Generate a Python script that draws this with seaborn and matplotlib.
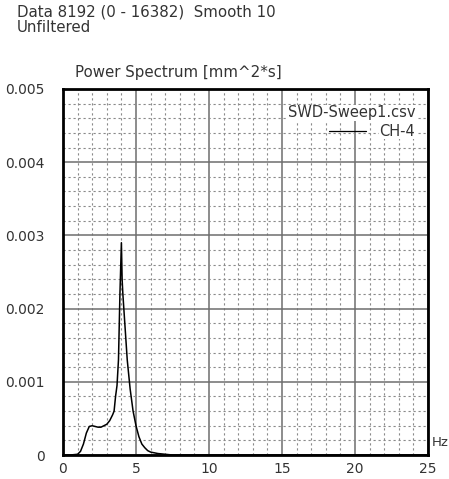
import matplotlib
matplotlib.use("Agg")
import matplotlib.pyplot as plt
from matplotlib.ticker import MultipleLocator
import seaborn as sns
import pandas as pd

# Spectrum samples (frequency in Hz, power in mm^2*s)
freq_hz = [0.0, 0.5, 1.0, 1.2, 1.4, 1.6, 1.8, 2.0, 2.2, 2.4, 2.6, 2.8, 3.0,
           3.2, 3.4, 3.5, 3.6, 3.7, 3.8, 3.9, 4.0, 4.05, 4.1, 4.2, 4.3, 4.4,
           4.5, 4.6, 4.8, 5.0, 5.2, 5.4, 5.6, 5.8, 6.0, 6.5, 7.0, 7.5, 10.0,
           15.0, 20.0, 25.0]
power = [0.0, 0.0, 0.00001, 0.00005, 0.00015, 0.0003, 0.00039, 0.0004,
         0.00039, 0.00038, 0.00038, 0.0004, 0.00042, 0.00047, 0.00055,
         0.0006, 0.0008, 0.00095, 0.0013, 0.0022, 0.0029, 0.0024, 0.0022,
         0.0019, 0.0016, 0.0013, 0.0011, 0.0009, 0.0006, 0.0004, 0.00025,
         0.00015, 0.0001, 0.00006, 0.00004, 0.00002, 0.00001, 0.0, 0.0,
         0.0, 0.0, 0.0]

x_ticks = [0, 5, 10, 15, 20, 25]
x_tick_labels = ["0", "5", "10", "15", "20", "25"]
y_ticks = [0, 0.001, 0.002, 0.003, 0.004, 0.005]
y_tick_labels = ["0", "0.001", "0.002", "0.003", "0.004", "0.005"]

header_line1 = "Data 8192 (0 - 16382)  Smooth 10"
header_line2 = "Unfiltered"
y_title = "Power Spectrum [mm^2*s]"
x_unit = "Hz"
file_name = "SWD-Sweep1.csv"
channel = "CH-4"

sns.set_style("white")
plt.rcParams["font.family"] = ["DejaVu Sans"]

df = pd.DataFrame({"Hz": freq_hz, "P": power})

fig = plt.figure(figsize=(4.49, 4.79), dpi=100)
ax = fig.add_axes([0.1403, 0.0501, 0.8129, 0.7641])

ax.set_xlim(0, 25)
ax.set_ylim(0, 0.005)

# grid: dotted minor lines, solid major lines
ax.xaxis.set_major_locator(MultipleLocator(5))
ax.yaxis.set_major_locator(MultipleLocator(0.001))
ax.xaxis.set_minor_locator(MultipleLocator(1))
ax.yaxis.set_minor_locator(MultipleLocator(0.0002))
ax.grid(which="minor", color="#8a8a8a", linestyle=(0, (2, 2.5)), linewidth=0.8)
ax.grid(which="major", color="#6e6e6e", linestyle="-", linewidth=1.1)
ax.set_axisbelow(True)

sns.lineplot(data=df, x="Hz", y="P", ax=ax, color="black", linewidth=1.1,
             estimator=None, sort=False, zorder=3)

ax.set_xticks(x_ticks)
ax.set_xticklabels(x_tick_labels)
ax.set_yticks(y_ticks)
ax.set_yticklabels(y_tick_labels)
ax.tick_params(axis="both", which="both", length=0, labelsize=10,
               colors="#333333")
ax.tick_params(axis="y", pad=13)
ax.tick_params(axis="x", pad=5)
ax.set_xlabel("")
ax.set_ylabel("")

for s in ax.spines.values():
    s.set_visible(True)
    s.set_color("black")
    s.set_linewidth(2.0)

# header texts
txt = dict(fontsize=10.8, va="center", ha="left", color="#333333")
fig.text(17 / 449, 1 - 12 / 479, header_line1, **txt)
fig.text(17 / 449, 1 - 28 / 479, header_line2, **txt)
fig.text(75 / 449, 1 - 72 / 479, y_title, **txt)
fig.text(432 / 449, 1 - 442 / 479, x_unit, fontsize=9.5, va="center",
         ha="left", color="#333333")

# legend block
ax.text(0.965, 0.935, file_name, transform=ax.transAxes, ha="right",
        va="center", fontsize=10.5, color="#333333", zorder=5,
        bbox=dict(facecolor="white", edgecolor="none", pad=0.5))
ax.text(0.965, 0.885, channel, transform=ax.transAxes, ha="right",
        va="center", fontsize=10.5, color="#333333", zorder=5,
        bbox=dict(facecolor="white", edgecolor="none", pad=0.5))
ax.plot([0.73, 0.83], [0.885, 0.885], transform=ax.transAxes,
        color="black", linewidth=0.9, zorder=6)

fig.savefig("out.png", dpi=100, facecolor="white")
